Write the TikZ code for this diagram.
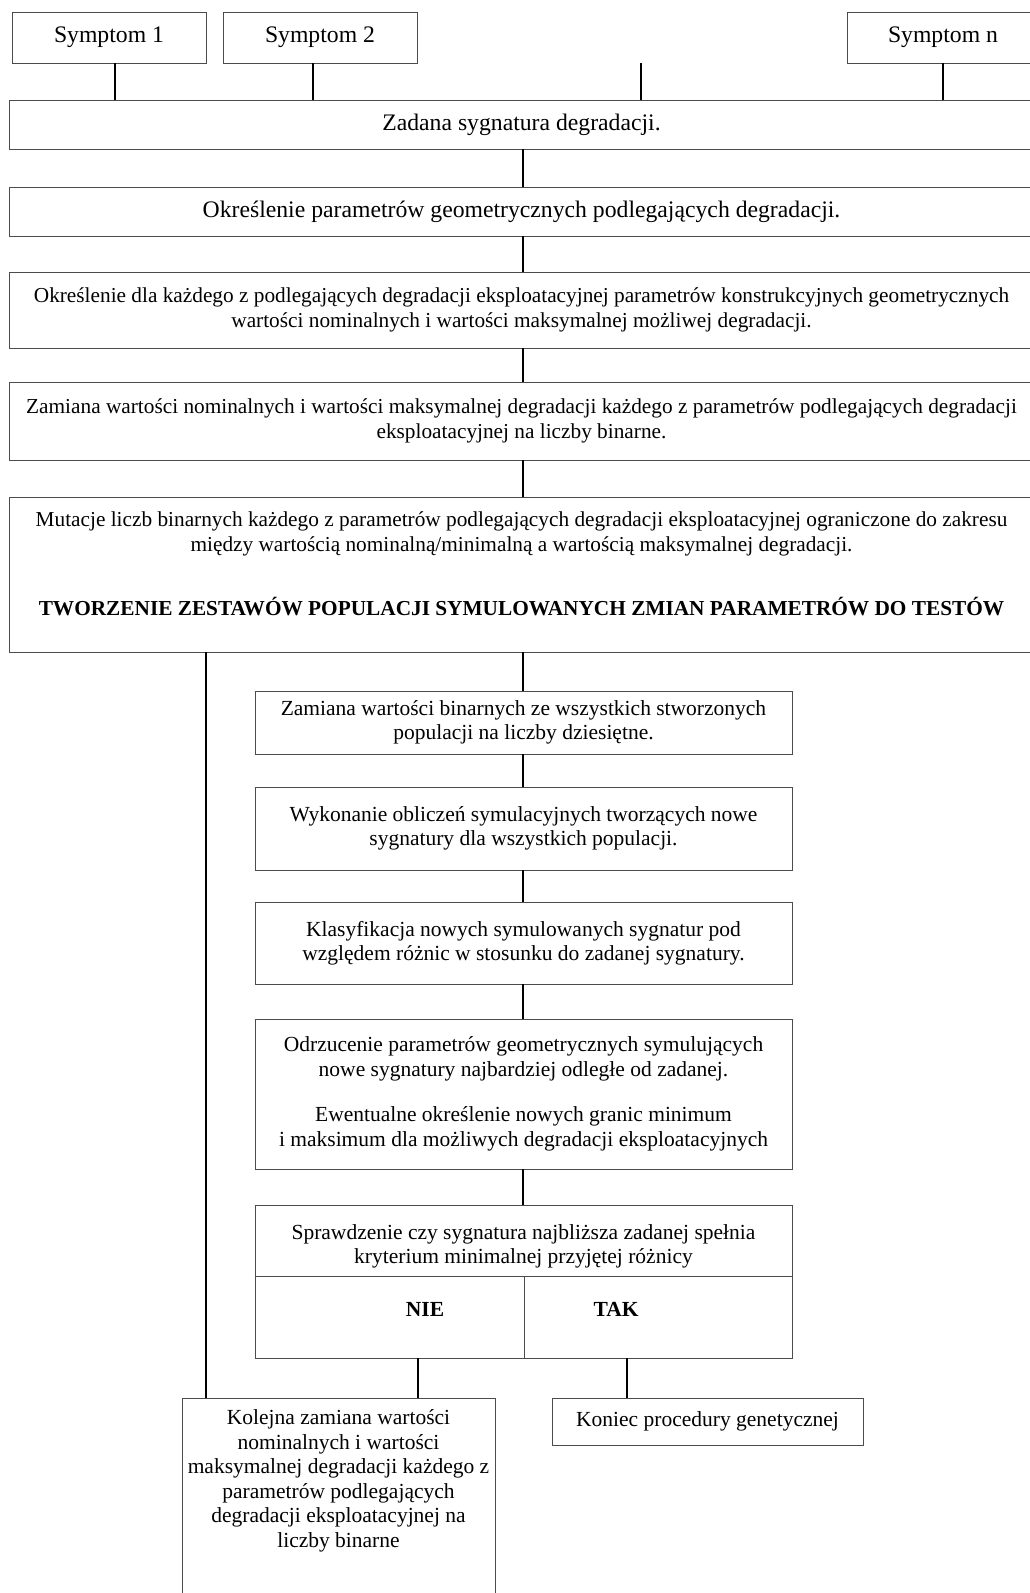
\documentclass[tikz,border=0pt]{standalone}
\usepackage{fontspec}
\setmainfont{Liberation Serif}
\usetikzlibrary{positioning,calc}

\newcommand{\fbig}{\fontsize{23.7}{27.3}\selectfont}
\newcommand{\fmid}{\fontsize{21.5}{24.5}\selectfont}
\newcommand{\fwide}{\fontsize{21.3}{24.5}\selectfont}

\tikzset{
  box/.style={draw=black!70, line width=0.9pt, inner sep=0pt, align=center, font=\fmid},
  wide/.style={box, minimum width=1025pt},
  step box/.style={box, minimum width=537pt},
  link/.style={draw=black, line width=1.8pt},
  rule/.style={draw=black!70, line width=0.9pt},
  label text/.style={inner sep=0pt, align=center, font=\fmid},
}

\begin{document}
\begin{tikzpicture}[x=1pt,y=-1pt]
\useasboundingbox (0,0) rectangle (1030,1593);

\node[box, font=\fbig, minimum width=194pt, minimum height=51pt] (sym1) at (109,37.5) {Symptom 1};
\node[box, font=\fbig, minimum width=194pt, minimum height=51pt] (sym2) at (320,37.5) {Symptom 2};
\node[box, font=\fbig, minimum width=192pt, minimum height=51pt] (symn) at (943,37.5) {Symptom n};

\node[wide, font=\fbig, minimum height=49pt] (zad) at (521.5,124.5) {Zadana sygnatura degradacji.};
\node[wide, font=\fbig, minimum height=49pt] (okr) at (521.5,211.5) {Określenie parametrów geometrycznych podlegających degradacji.};
\node[wide, font=\fwide, minimum height=76pt] (dla) at (521.5,310) {Określenie dla każdego z podlegających degradacji eksploatacyjnej parametrów konstrukcyjnych geometrycznych\\wartości nominalnych i wartości maksymalnej możliwej degradacji.};
\node[wide, font=\fwide, minimum height=78pt] (bin) at (521.5,421) {Zamiana wartości nominalnych i wartości maksymalnej degradacji każdego z parametrów podlegających degradacji\\eksploatacyjnej na liczby binarne.};
\node[wide, minimum height=155pt] (mut) at (521.5,574.5) {};
\node[label text, font=\fwide, below=15pt of mut.north] (muttxt) {Mutacje liczb binarnych każdego z parametrów podlegających degradacji eksploatacyjnej ograniczone do zakresu\\między wartością nominalną/minimalną a wartością maksymalnej degradacji.\\[39.5pt]\textbf{TWORZENIE ZESTAWÓW POPULACJI SYMULOWANYCH ZMIAN PARAMETRÓW DO TESTÓW}};

\node[step box, minimum height=63pt] (dec) at (523.5,722.5) {Zamiana wartości binarnych ze wszystkich stworzonych\\populacji na liczby dziesiętne.};
\node[step box, minimum height=83pt] (sim) at (523.5,828.5) {Wykonanie obliczeń symulacyjnych tworzących nowe\\sygnatury dla wszystkich populacji.};
\node[step box, minimum height=82pt] (kla) at (523.5,943) {Klasyfikacja nowych symulowanych sygnatur pod\\względem różnic w stosunku do zadanej sygnatury.};
\node[step box, minimum height=150pt] (odr) at (523.5,1094) {Odrzucenie parametrów geometrycznych symulujących\\nowe sygnatury najbardziej odległe od zadanej.\\[21pt]Ewentualne określenie nowych granic minimum\\i maksimum dla możliwych degradacji eksploatacyjnych};
\node[step box, minimum height=153pt] (spr) at (523.5,1281.5) {};
\node[label text] (sprtxt) at (523.5,1246.5) {Sprawdzenie czy sygnatura najbliższa zadanej spełnia\\kryterium minimalnej przyjętej różnicy};
\node[label text, font=\fmid\bfseries] (nie) at (425,1309) {NIE};
\node[label text, font=\fmid\bfseries] (tak) at (616,1309) {TAK};

\node[box, minimum width=313pt, minimum height=202pt] (kol) at (338.5,1499) {};
\node[label text, below=12pt of kol.north] (koltxt) {Kolejna zamiana wartości\\nominalnych i wartości\\maksymalnej degradacji każdego z\\parametrów podlegających\\degradacji eksploatacyjnej na\\liczby binarne};
\node[box, minimum width=311pt, minimum height=47pt] (kon) at (707.5,1421.5) {Koniec procedury genetycznej};

\coordinate (split) at (524,1276);
\draw[rule] (spr.west |- split) -- (spr.east |- split);
\draw[rule] (split) -- (spr.south -| split);

\coordinate (s1) at ([xshift=6pt]sym1.south);
\coordinate (s2) at ([xshift=-7pt]sym2.south);
\coordinate (sdots) at (641,63);
\coordinate (spine) at (523,0);
\coordinate (loop) at (206,0);
\coordinate (nieway) at (418,0);
\coordinate (takway) at (627,0);

\foreach \s in {s1,s2,sdots,symn.south}
  \draw[link] (\s) -- (\s |- zad.north);
\foreach \a/\b in {zad/okr,okr/dla,dla/bin,bin/mut,mut/dec,dec/sim,sim/kla,kla/odr,odr/spr}
  \draw[link] (\a.south -| spine) -- (\b.north -| spine);
\draw[link] (mut.south -| loop) -- (kol.north -| loop);
\draw[link] (spr.south -| nieway) -- (kol.north -| nieway);
\draw[link] (spr.south -| takway) -- (kon.north -| takway);
\end{tikzpicture}
\end{document}
